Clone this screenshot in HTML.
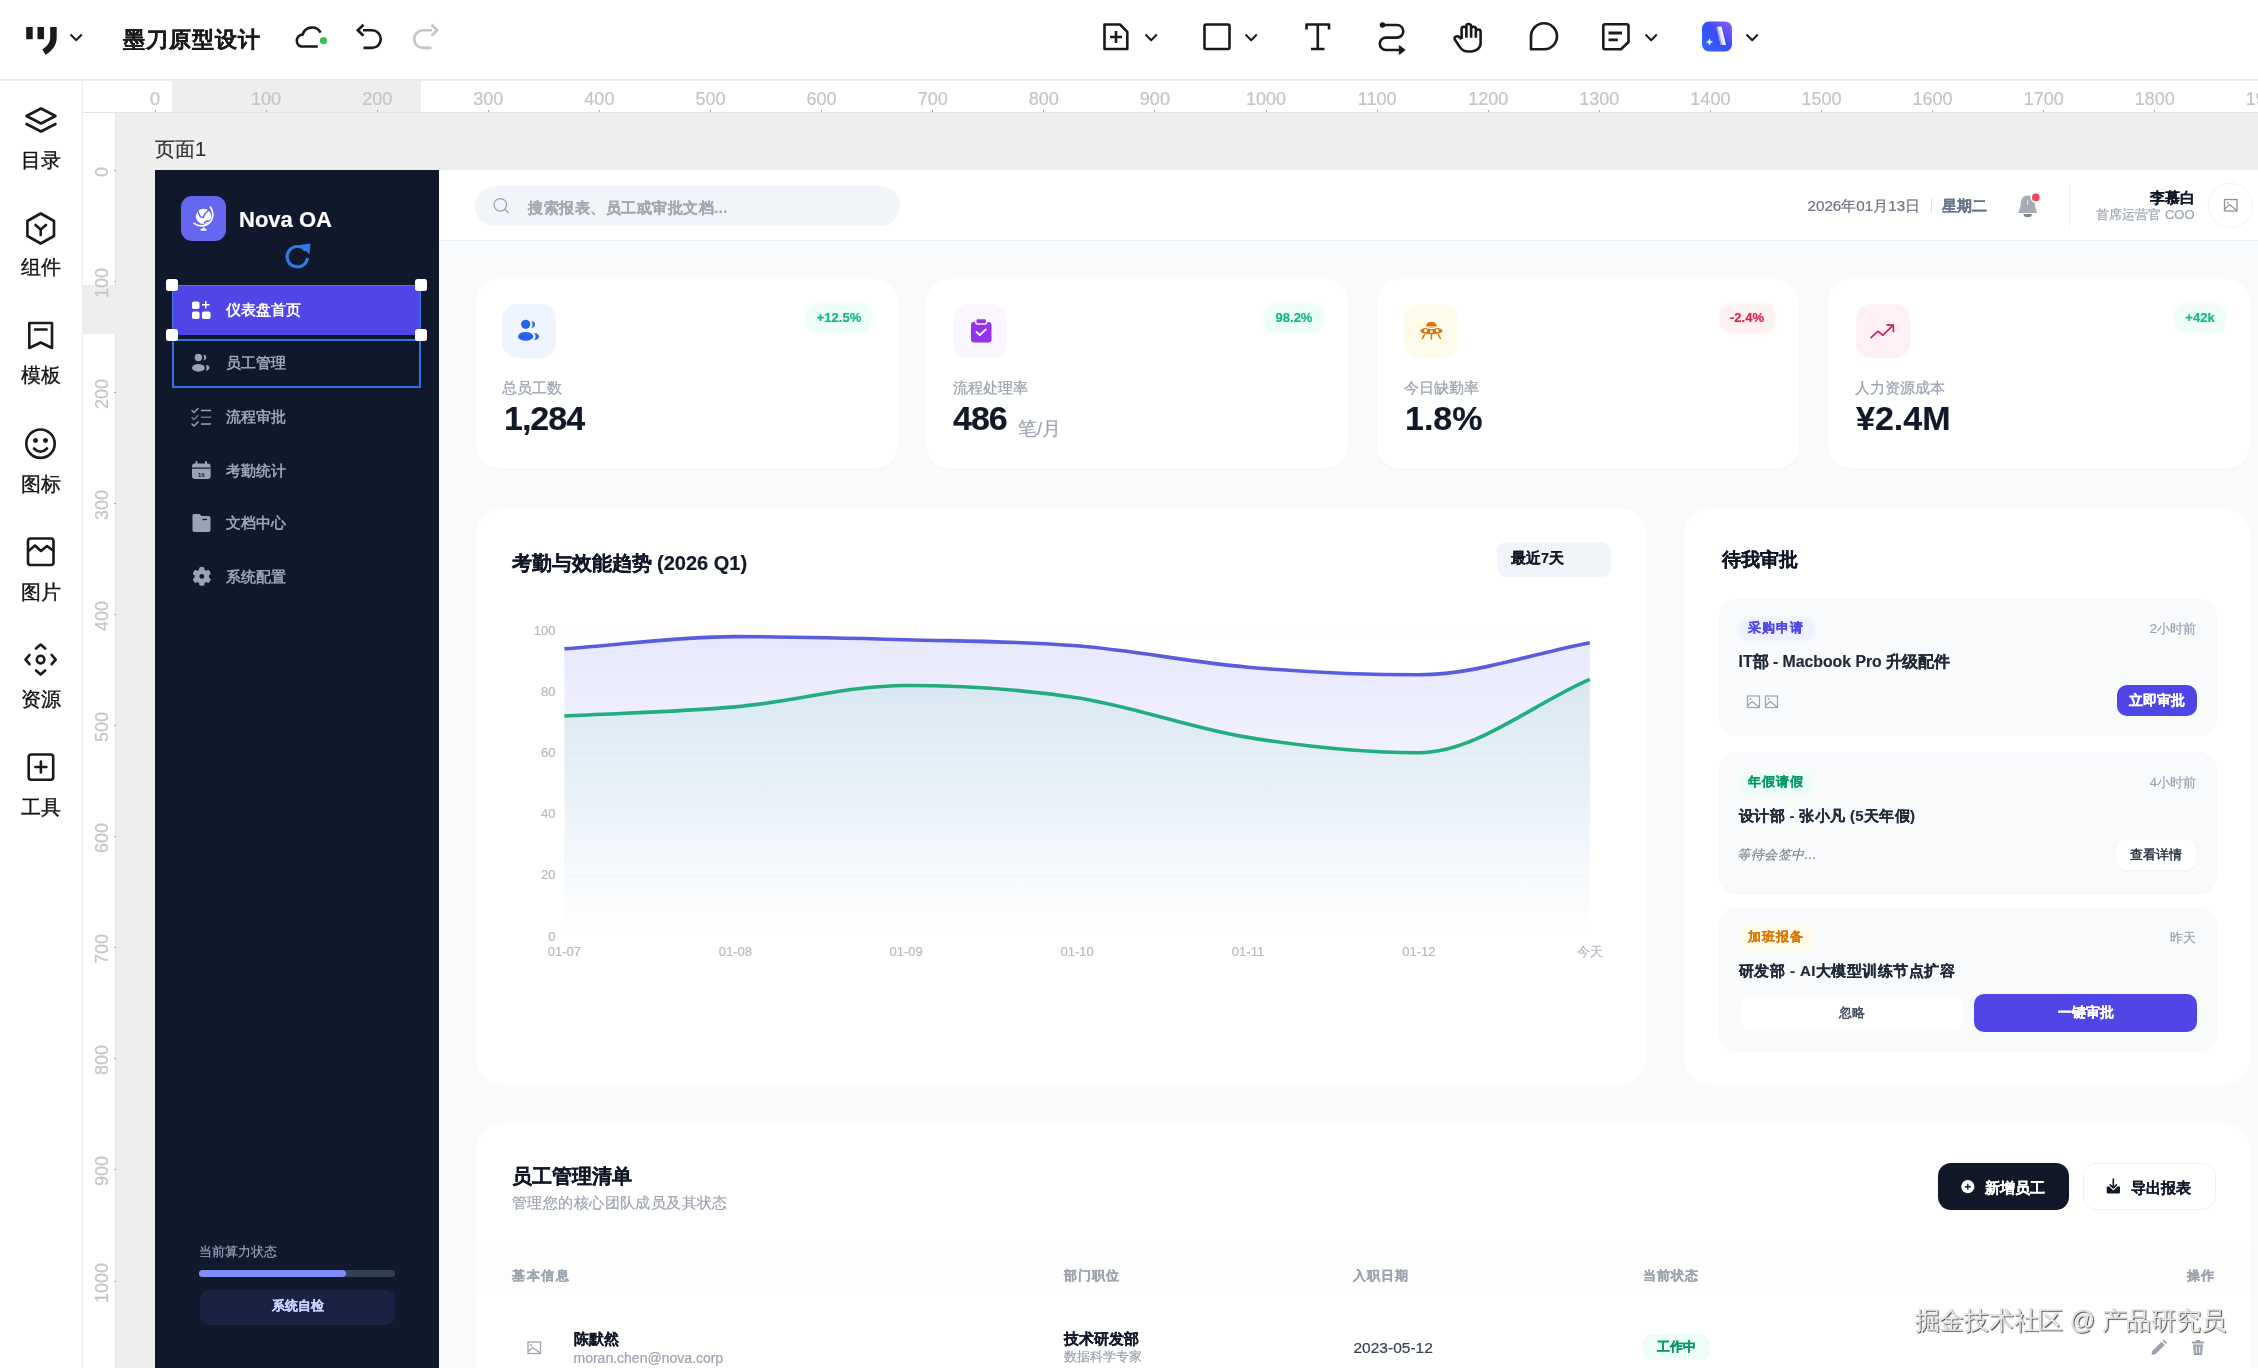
<!DOCTYPE html>
<html><head><meta charset="utf-8">
<style>
*{box-sizing:border-box;margin:0;padding:0}
html,body{width:2258px;height:1368px;overflow:hidden;background:#eeeeee;font-family:"Liberation Sans",sans-serif;}
.a{position:absolute}
.t{position:absolute;white-space:nowrap;line-height:1;-webkit-text-stroke-width:0.2px}
svg{position:absolute;overflow:visible}
</style></head><body>
<div id="root" style="position:absolute;left:0;top:0;width:2258px;height:1368px;overflow:hidden;will-change:transform">

<!-- canvas bg -->
<div class="a" style="left:0;top:0;width:2258px;height:1368px;background:#eeeeee"></div>

<!-- ===== TOP BAR ===== -->
<div class="a" style="left:0;top:0;width:2258px;height:80px;background:#fff;border-bottom:1px solid #e6e6e6"></div>
<svg style="left:0;top:0" width="100" height="80">
  <rect x="26.2" y="27" width="6.5" height="12.2" fill="#1a1a1a"/>
  <rect x="37.5" y="27" width="6.5" height="12.2" fill="#1a1a1a"/>
  <path d="M50.2,27 H56.7 V37.5 C56.7,45 52.5,51 45.4,54.7 L42.3,49.3 C47,46.5 50.2,42.5 50.2,37.5 Z" fill="#1a1a1a"/>
  <path d="M70.5,34.5 L76.2,40.2 L81.8,34.5" fill="none" stroke="#1a1a1a" stroke-width="2"/>
</svg>
<div class="t" style="left:122.5px;top:28.5px;font-size:22px;font-weight:bold;color:#1a1a1a;letter-spacing:1px">墨刀原型设计</div>
<svg style="left:0;top:0" width="460" height="80">
  <path d="M317.8,46.5 H301 A6.1,6.1 0 0 1 302.6,34.6 A9.8,9.8 0 0 1 320.6,32.6" fill="none" stroke="#1a1a1a" stroke-width="2.6" stroke-linecap="butt"/>
  <circle cx="323.5" cy="40.7" r="3.6" fill="#3fbf4f"/>
  <path d="M363,30.3 H372 A8.8,8.8 0 0 1 372,47.9 H363.5" fill="none" stroke="#1a1a1a" stroke-width="2.6"/>
  <path d="M363.5,24.8 L357.8,30.3 L363.5,35.8" fill="none" stroke="#1a1a1a" stroke-width="2.6"/>
  <path d="M432,30.3 H423 A8.8,8.8 0 0 0 423,47.9 H431.5" fill="none" stroke="#c4c4c4" stroke-width="2.6"/>
  <path d="M431.5,24.8 L437.2,30.3 L431.5,35.8" fill="none" stroke="#c4c4c4" stroke-width="2.6"/>
</svg>
<!-- toolbar icons -->
<svg style="left:0;top:0" width="1800" height="80">
  <g fill="none" stroke="#1a1a1a" stroke-width="2.6" stroke-linejoin="round">
    <path d="M1104.5,24.5 H1120 L1127.3,31.8 V49 H1104.5 Z"/>
    <path d="M1116,31 V43 M1110,37 H1122"/>
    <path d="M1145.5,34.5 L1151.2,40.2 L1156.8,34.5" stroke-width="2"/>
    <rect x="1204.5" y="24.5" width="25" height="24.5" rx="1.5"/>
    <path d="M1245.5,34.5 L1251.2,40.2 L1256.8,34.5" stroke-width="2"/>
    <path d="M1306.5,29.5 V24.5 H1329 V29.5 M1317.8,24.5 V49 M1311,49 H1324.5"/>
    <path d="M1382,25 H1397 A6.3,6.3 0 0 1 1397,37.6 H1386 A6.2,6.2 0 0 0 1386,50 H1402"/>
    <path transform="translate(1449,21.3) scale(1.58,1.37)" vector-effect="non-scaling-stroke" d="M8 13v-7.5a1.5 1.5 0 0 1 3 0v6.5 M11 5.5v-2a1.5 1.5 0 1 1 3 0v8.5 M14 5.5a1.5 1.5 0 0 1 3 0v6.5 M17 7.5a1.5 1.5 0 0 1 3 0v8.5a6 6 0 0 1 -6 6h-2h.208a6 6 0 0 1 -5.012 -2.7l-.196 -.3c-.312 -.479 -1.407 -2.388 -3.286 -5.728a1.5 1.5 0 0 1 .536 -2.022a1.867 1.867 0 0 1 2.28 .28l1.47 1.47"/>
    <path d="M1531,49.3 V36.5 A13,13 0 1 1 1544.2,49.3 Z"/>
    <path d="M1605,24.3 H1626.8 Q1628.5,24.3 1628.5,26 V42 L1621,49.3 H1605 Q1603.3,49.3 1603.3,47.6 V26 Q1603.3,24.3 1605,24.3 Z"/><path d="M1608.5,33 H1622 M1608.5,39.8 H1617.8" stroke-width="2.8"/>
    <path d="M1645.5,34.5 L1651.2,40.2 L1656.8,34.5" stroke-width="2"/>
    <path d="M1746.5,34.5 L1752.2,40.2 L1757.8,34.5" stroke-width="2"/>
  </g>
  <path d="M1397,50 L1402.5,50 M1399,46 L1404,50 L1399,54" fill="#1a1a1a" stroke="#1a1a1a" stroke-width="2"/>
  <circle cx="1382.5" cy="25" r="2.8" fill="#1a1a1a"/>
  <defs><linearGradient id="aig" x1="0" y1="1" x2="1" y2="0"><stop offset="0" stop-color="#2f6bff"/><stop offset="0.55" stop-color="#3b4cf5"/><stop offset="1" stop-color="#9b5cf6"/></linearGradient></defs>
  <rect x="1702" y="21.5" width="30" height="30" rx="7" fill="url(#aig)"/>
  <path d="M1717.5,26.5 H1721.5 L1726,45 H1722 Z" fill="#fff" opacity="0.95"/>
  <path d="M1716,27 L1719,27 L1723.5,45 L1720.5,45Z" fill="#c9c5ff" opacity="0.6"/>
  <path d="M1709.5,38.5 L1710.6,41 L1713,42 L1710.6,43 L1709.5,45.5 L1708.4,43 L1706,42 L1708.4,41Z" fill="#fff"/>
</svg>

<!-- ===== LEFT PANEL ===== -->
<div class="a" style="left:0;top:81px;width:83px;height:1287px;background:#fff;border-right:1px solid #ececec"></div>

<div class="t" style="left:20px;top:149.6px;width:42px;text-align:center;font-size:20px;color:#141414;-webkit-text-stroke:0.35px #141414">目录</div>
<div class="t" style="left:20px;top:256.5px;width:42px;text-align:center;font-size:20px;color:#141414;-webkit-text-stroke:0.35px #141414">组件</div>
<div class="t" style="left:20px;top:364.5px;width:42px;text-align:center;font-size:20px;color:#141414;-webkit-text-stroke:0.35px #141414">模板</div>
<div class="t" style="left:20px;top:473.6px;width:42px;text-align:center;font-size:20px;color:#141414;-webkit-text-stroke:0.35px #141414">图标</div>
<div class="t" style="left:20px;top:581.9px;width:42px;text-align:center;font-size:20px;color:#141414;-webkit-text-stroke:0.35px #141414">图片</div>
<div class="t" style="left:20px;top:688.7px;width:42px;text-align:center;font-size:20px;color:#141414;-webkit-text-stroke:0.35px #141414">资源</div>
<div class="t" style="left:20px;top:796.7px;width:42px;text-align:center;font-size:20px;color:#141414;-webkit-text-stroke:0.35px #141414">工具</div>
<svg style="left:0;top:0" width="83" height="900"><g fill="none" stroke="#1a1a1a" stroke-width="2.6" stroke-linejoin="round" stroke-linecap="round">
<path d="M41,108.5 L55.5,116 L41,123.5 L26.5,116 Z"/>
<path d="M26.5,124 L41,131.5 L55.5,124"/>
<path d="M40.7,213.5 L54,221 V236 L40.7,243.5 L27.4,236 V221 Z"/>
<path d="M35.5,225 L40.7,229.5 L46,225 M40.7,229.5 V235"/>
<path d="M29.3,323 H52 V348 L40.7,342.5 L29.3,348 Z"/>
<path d="M35,329.5 H46.5"/>
<circle cx="40.5" cy="443.7" r="14.2"/>
<path d="M34,448.5 Q40.5,455 47,448.5"/>
<circle cx="35.5" cy="440.5" r="1.2" fill="#1a1a1a"/><circle cx="45.5" cy="440.5" r="1.2" fill="#1a1a1a"/>
<rect x="28" y="538.5" width="25.5" height="26.5" rx="2.5"/>
<path d="M28.5,551 L35,545.5 L41,551 L47,546 L53,550.5"/>
<path d="M36,648.5 L40.6,644.5 L45.2,648.5 M36,670.5 L40.6,674.5 L45.2,670.5 M29.5,655 L25.5,659.6 L29.5,664.2 M51.7,655 L55.7,659.6 L51.7,664.2"/>
<circle cx="40.6" cy="659.6" r="3.8"/>
<rect x="28.7" y="754.5" width="24.5" height="25.2" rx="2.5"/>
<path d="M40.9,761.5 V772.5 M35.4,767 H46.4"/>
</g></svg>
<!-- rulers -->
<div class="a" style="left:83px;top:81px;width:2175px;height:32px;background:#fff;border-bottom:1px solid #e4e4e4"></div>
<div class="a" style="left:172px;top:81px;width:249px;height:31px;background:#eeeeee"></div>
<div class="a" style="left:83px;top:113px;width:33px;height:1255px;background:#fff;border-right:1px solid #e4e4e4"></div>
<div class="a" style="left:83px;top:285px;width:33px;height:49px;background:#eeeeee"></div>
<div class="t" style="left:115.0px;top:89.5px;width:80px;text-align:center;font-size:18px;color:#c4c4c4">0</div>
<div class="a" style="left:154.5px;top:109.5px;width:1px;height:2.5px;background:#a8a8a8"></div>
<div class="t" style="left:226.1px;top:89.5px;width:80px;text-align:center;font-size:18px;color:#c4c4c4">100</div>
<div class="a" style="left:265.6px;top:109.5px;width:1px;height:2.5px;background:#a8a8a8"></div>
<div class="t" style="left:337.2px;top:89.5px;width:80px;text-align:center;font-size:18px;color:#c4c4c4">200</div>
<div class="a" style="left:376.7px;top:109.5px;width:1px;height:2.5px;background:#a8a8a8"></div>
<div class="t" style="left:448.3px;top:89.5px;width:80px;text-align:center;font-size:18px;color:#c4c4c4">300</div>
<div class="a" style="left:487.8px;top:109.5px;width:1px;height:2.5px;background:#a8a8a8"></div>
<div class="t" style="left:559.4px;top:89.5px;width:80px;text-align:center;font-size:18px;color:#c4c4c4">400</div>
<div class="a" style="left:598.9px;top:109.5px;width:1px;height:2.5px;background:#a8a8a8"></div>
<div class="t" style="left:670.5px;top:89.5px;width:80px;text-align:center;font-size:18px;color:#c4c4c4">500</div>
<div class="a" style="left:710.0px;top:109.5px;width:1px;height:2.5px;background:#a8a8a8"></div>
<div class="t" style="left:781.6px;top:89.5px;width:80px;text-align:center;font-size:18px;color:#c4c4c4">600</div>
<div class="a" style="left:821.1px;top:109.5px;width:1px;height:2.5px;background:#a8a8a8"></div>
<div class="t" style="left:892.7px;top:89.5px;width:80px;text-align:center;font-size:18px;color:#c4c4c4">700</div>
<div class="a" style="left:932.2px;top:109.5px;width:1px;height:2.5px;background:#a8a8a8"></div>
<div class="t" style="left:1003.8px;top:89.5px;width:80px;text-align:center;font-size:18px;color:#c4c4c4">800</div>
<div class="a" style="left:1043.3px;top:109.5px;width:1px;height:2.5px;background:#a8a8a8"></div>
<div class="t" style="left:1114.9px;top:89.5px;width:80px;text-align:center;font-size:18px;color:#c4c4c4">900</div>
<div class="a" style="left:1154.4px;top:109.5px;width:1px;height:2.5px;background:#a8a8a8"></div>
<div class="t" style="left:1226.0px;top:89.5px;width:80px;text-align:center;font-size:18px;color:#c4c4c4">1000</div>
<div class="a" style="left:1265.5px;top:109.5px;width:1px;height:2.5px;background:#a8a8a8"></div>
<div class="t" style="left:1337.1px;top:89.5px;width:80px;text-align:center;font-size:18px;color:#c4c4c4">1100</div>
<div class="a" style="left:1376.6px;top:109.5px;width:1px;height:2.5px;background:#a8a8a8"></div>
<div class="t" style="left:1448.2px;top:89.5px;width:80px;text-align:center;font-size:18px;color:#c4c4c4">1200</div>
<div class="a" style="left:1487.7px;top:109.5px;width:1px;height:2.5px;background:#a8a8a8"></div>
<div class="t" style="left:1559.3px;top:89.5px;width:80px;text-align:center;font-size:18px;color:#c4c4c4">1300</div>
<div class="a" style="left:1598.8px;top:109.5px;width:1px;height:2.5px;background:#a8a8a8"></div>
<div class="t" style="left:1670.4px;top:89.5px;width:80px;text-align:center;font-size:18px;color:#c4c4c4">1400</div>
<div class="a" style="left:1709.9px;top:109.5px;width:1px;height:2.5px;background:#a8a8a8"></div>
<div class="t" style="left:1781.5px;top:89.5px;width:80px;text-align:center;font-size:18px;color:#c4c4c4">1500</div>
<div class="a" style="left:1821.0px;top:109.5px;width:1px;height:2.5px;background:#a8a8a8"></div>
<div class="t" style="left:1892.6px;top:89.5px;width:80px;text-align:center;font-size:18px;color:#c4c4c4">1600</div>
<div class="a" style="left:1932.1px;top:109.5px;width:1px;height:2.5px;background:#a8a8a8"></div>
<div class="t" style="left:2003.7px;top:89.5px;width:80px;text-align:center;font-size:18px;color:#c4c4c4">1700</div>
<div class="a" style="left:2043.2px;top:109.5px;width:1px;height:2.5px;background:#a8a8a8"></div>
<div class="t" style="left:2114.8px;top:89.5px;width:80px;text-align:center;font-size:18px;color:#c4c4c4">1800</div>
<div class="a" style="left:2154.3px;top:109.5px;width:1px;height:2.5px;background:#a8a8a8"></div>
<div class="t" style="left:2225.9px;top:89.5px;width:80px;text-align:center;font-size:18px;color:#c4c4c4">1900</div>
<div class="a" style="left:2265.4px;top:109.5px;width:1px;height:2.5px;background:#a8a8a8"></div>
<div class="t" style="left:62px;top:162.5px;width:80px;text-align:center;font-size:18px;color:#c4c4c4;transform:rotate(-90deg)">0</div>
<div class="a" style="left:113.5px;top:169.5px;width:2.5px;height:1px;background:#a8a8a8"></div>
<div class="t" style="left:62px;top:273.6px;width:80px;text-align:center;font-size:18px;color:#c4c4c4;transform:rotate(-90deg)">100</div>
<div class="a" style="left:113.5px;top:280.6px;width:2.5px;height:1px;background:#a8a8a8"></div>
<div class="t" style="left:62px;top:384.7px;width:80px;text-align:center;font-size:18px;color:#c4c4c4;transform:rotate(-90deg)">200</div>
<div class="a" style="left:113.5px;top:391.7px;width:2.5px;height:1px;background:#a8a8a8"></div>
<div class="t" style="left:62px;top:495.8px;width:80px;text-align:center;font-size:18px;color:#c4c4c4;transform:rotate(-90deg)">300</div>
<div class="a" style="left:113.5px;top:502.8px;width:2.5px;height:1px;background:#a8a8a8"></div>
<div class="t" style="left:62px;top:606.9px;width:80px;text-align:center;font-size:18px;color:#c4c4c4;transform:rotate(-90deg)">400</div>
<div class="a" style="left:113.5px;top:613.9px;width:2.5px;height:1px;background:#a8a8a8"></div>
<div class="t" style="left:62px;top:718.0px;width:80px;text-align:center;font-size:18px;color:#c4c4c4;transform:rotate(-90deg)">500</div>
<div class="a" style="left:113.5px;top:725.0px;width:2.5px;height:1px;background:#a8a8a8"></div>
<div class="t" style="left:62px;top:829.1px;width:80px;text-align:center;font-size:18px;color:#c4c4c4;transform:rotate(-90deg)">600</div>
<div class="a" style="left:113.5px;top:836.1px;width:2.5px;height:1px;background:#a8a8a8"></div>
<div class="t" style="left:62px;top:940.2px;width:80px;text-align:center;font-size:18px;color:#c4c4c4;transform:rotate(-90deg)">700</div>
<div class="a" style="left:113.5px;top:947.2px;width:2.5px;height:1px;background:#a8a8a8"></div>
<div class="t" style="left:62px;top:1051.3px;width:80px;text-align:center;font-size:18px;color:#c4c4c4;transform:rotate(-90deg)">800</div>
<div class="a" style="left:113.5px;top:1058.3px;width:2.5px;height:1px;background:#a8a8a8"></div>
<div class="t" style="left:62px;top:1162.4px;width:80px;text-align:center;font-size:18px;color:#c4c4c4;transform:rotate(-90deg)">900</div>
<div class="a" style="left:113.5px;top:1169.4px;width:2.5px;height:1px;background:#a8a8a8"></div>
<div class="t" style="left:62px;top:1273.5px;width:80px;text-align:center;font-size:18px;color:#c4c4c4;transform:rotate(-90deg)">1000</div>
<div class="a" style="left:113.5px;top:1280.5px;width:2.5px;height:1px;background:#a8a8a8"></div>
<div class="t" style="left:62px;top:1384.6px;width:80px;text-align:center;font-size:18px;color:#c4c4c4;transform:rotate(-90deg)">1100</div>
<div class="a" style="left:113.5px;top:1391.6px;width:2.5px;height:1px;background:#a8a8a8"></div>
<!-- CANVAS -->
<div class="t" style="left:155px;top:139px;font-size:20px;color:#333">页面1</div>
<!-- ===== ARTBOARD ===== -->
<div class="a" style="left:155px;top:170px;width:2133px;height:1300px;background:#f8fafc"></div>
<!-- sidebar -->
<div class="a" style="left:155px;top:170px;width:284px;height:1300px;background:#10182b"></div>
<div class="a" style="left:181px;top:196px;width:45px;height:45px;border-radius:11px;background:#6567f0"></div>
<svg style="left:0;top:0" width="440" height="600">
  <circle cx="203.6" cy="216.4" r="7.7" fill="#fff"/>
  <path d="M197.9,211.4 L200.2,216.7 L203.1,217.5 L205,213.8 L208.6,210.2 M204.3,222.8 Q205.5,221 209.6,220.8 L211.2,219.2" fill="none" stroke="#6366f1" stroke-width="1.5" stroke-linecap="round"/>
  <path d="M210.4,207.1 A11.6,11.6 0 0 1 194.1,223.4" fill="none" stroke="#fff" stroke-width="1.7" stroke-linecap="round"/>
  <path d="M203.7,227.5 V229" stroke="#fff" stroke-width="1.8"/>
  <rect x="200.5" y="228.7" width="6.1" height="2.1" rx="0.8" fill="#fff"/>
</svg>
<div class="t" style="left:239px;top:208.5px;font-size:22px;font-weight:bold;color:#fff">Nova OA</div>
<svg style="left:0;top:0" width="440" height="600">
  <path d="M305.5,250.5 A10.2,10.2 0 1 0 307.5,258" fill="none" stroke="#2f7ae8" stroke-width="3.2"/>
  <path d="M299.5,245 L310.5,243.5 L309.5,254.5 Z" fill="#2f7ae8"/>
</svg>
<!-- nav -->
<div class="a" style="left:172.3px;top:285px;width:249px;height:49.5px;background:#4f46e5;border:1.5px solid #4a7cf0;border-bottom:none"></div>
<div class="a" style="left:172.3px;top:338.5px;width:249px;height:49px;border:2.4px solid #3272e4"></div>
<div class="a" style="left:165.8px;top:279px;width:12px;height:12px;background:#fff;border-radius:2.5px;box-shadow:0 0 1px rgba(0,0,0,.4)"></div>
<div class="a" style="left:415px;top:279px;width:12px;height:12px;background:#fff;border-radius:2.5px;box-shadow:0 0 1px rgba(0,0,0,.4)"></div>
<div class="a" style="left:165.8px;top:328.5px;width:12px;height:12px;background:#fff;border-radius:2.5px;box-shadow:0 0 1px rgba(0,0,0,.4)"></div>
<div class="a" style="left:415px;top:328.5px;width:12px;height:12px;background:#fff;border-radius:2.5px;box-shadow:0 0 1px rgba(0,0,0,.4)"></div>
<svg style="left:0;top:0" width="440" height="600">
  <g fill="#fff">
    <rect x="192" y="301.5" width="7.5" height="7.5" rx="1.8"/>
    <rect x="192" y="311.5" width="7.5" height="7.5" rx="1.8"/>
    <rect x="202" y="311.5" width="8.5" height="7.5" rx="1.8"/>
    <path d="M205.8,301 V308.5 M202,304.8 H209.6" stroke="#fff" stroke-width="1.5"/>
  </g>
  <g fill="#9aa4b5">
    <circle cx="198.4" cy="357.5" r="3.7"/>
    <ellipse cx="198.4" cy="367.9" rx="6.4" ry="3.8"/>
    <path d="M203.2,354.8 A3.1,2.8 0 0 1 203.2,360.4 A4.6,4.6 0 0 0 203.2,354.8 Z"/>
    <path d="M205.8,365 A3.6,2.8 0 0 1 205.8,370.6 A5.4,5.4 0 0 0 205.8,365 Z"/>
  </g>
  <g fill="none" stroke="#9aa4b5" stroke-width="1.5" stroke-linecap="round">
    <path d="M192,410.5 L194,412.5 L198,408.5 M192,424 L194,426 L198,422"/>
    <path d="M192,417.5 L194,419.5 L198,415.5" stroke="#6b7385"/>
    <path d="M201.5,410.5 H210.5 M201.5,424 H210.5"/>
    <path d="M201.5,417.2 H210.5" stroke="#6b7385"/>
  </g>
  <g fill="#9aa4b5">
    <rect x="192" y="463.5" width="18.7" height="15.5" rx="3"/>
    <rect x="195.5" y="461" width="2" height="4" rx="1"/>
    <rect x="205" y="461" width="2" height="4" rx="1"/>
    <path d="M192.5,515.5 Q192.5,514 194,514 H199.5 L201.5,516 H208.5 Q210.5,516 210.5,518 V530 Q210.5,532 208.5,532 H194.5 Q192.5,532 192.5,530 Z"/>
    <g transform="translate(201.8,576.4)"><rect x="-2.6" y="-9.4" width="5.2" height="6" rx="1.6" transform="rotate(0)"/><rect x="-2.6" y="-9.4" width="5.2" height="6" rx="1.6" transform="rotate(60)"/><rect x="-2.6" y="-9.4" width="5.2" height="6" rx="1.6" transform="rotate(120)"/><rect x="-2.6" y="-9.4" width="5.2" height="6" rx="1.6" transform="rotate(180)"/><rect x="-2.6" y="-9.4" width="5.2" height="6" rx="1.6" transform="rotate(240)"/><rect x="-2.6" y="-9.4" width="5.2" height="6" rx="1.6" transform="rotate(300)"/><circle r="7.2"/></g>
  </g>
  <rect x="192" y="467.5" width="18.7" height="1.2" fill="#0f172a"/>
  <text x="201.3" y="476.5" font-size="6" font-weight="bold" fill="#0f172a" text-anchor="middle" font-family="Liberation Sans">10</text>
  <path d="M202.5,519.5 H207" stroke="#0f172a" stroke-width="1.3"/>
  <circle cx="201.8" cy="576.4" r="2.4" fill="#0f172a"/>
</svg>
<div class="t" style="left:226px;top:303px;font-size:14.8px;font-weight:bold;color:#fff;-webkit-text-stroke-width:0">仪表盘首页</div>
<div class="t" style="left:226px;top:356px;font-size:14.8px;font-weight:bold;color:#9aa4b5;-webkit-text-stroke-width:0">员工管理</div>
<div class="t" style="left:226px;top:410px;font-size:14.8px;font-weight:bold;color:#9aa4b5;-webkit-text-stroke-width:0">流程审批</div>
<div class="t" style="left:226px;top:463.5px;font-size:14.8px;font-weight:bold;color:#9aa4b5;-webkit-text-stroke-width:0">考勤统计</div>
<div class="t" style="left:226px;top:516px;font-size:14.8px;font-weight:bold;color:#9aa4b5;-webkit-text-stroke-width:0">文档中心</div>
<div class="t" style="left:226px;top:569.5px;font-size:14.8px;font-weight:bold;color:#9aa4b5;-webkit-text-stroke-width:0">系统配置</div>
<!-- sidebar bottom -->
<div class="a" style="left:175px;top:1215px;width:243px;height:138px;border-radius:14px;background:rgba(30,41,59,0.13)"></div>
<div class="t" style="left:199px;top:1245px;font-size:13px;color:#94a3b8">当前算力状态</div>
<div class="a" style="left:199px;top:1270px;width:196px;height:7px;border-radius:4px;background:#334155"></div>
<div class="a" style="left:199px;top:1270px;width:147px;height:7px;border-radius:4px;background:#818cf8"></div>
<div class="a" style="left:200px;top:1290px;width:195px;height:35px;border-radius:9px;background:#1a2244"></div>
<div class="t" style="left:200px;top:1299px;width:195px;text-align:center;font-size:13px;font-weight:bold;color:#c7d2fe">系统自检</div>

<!-- header -->
<div class="a" style="left:439px;top:170px;width:1849px;height:71px;background:#fff;border-bottom:1px solid #eef1f5"></div>
<div class="a" style="left:475px;top:186px;width:425px;height:40px;border-radius:20px;background:#f1f5f9"></div>
<svg style="left:0;top:0" width="1000" height="300"><g fill="none" stroke="#9aa1ab" stroke-width="1.25"><circle cx="500.3" cy="204.8" r="6.3"/><path d="M505,209.5 L508.3,212.5" stroke-linecap="round"/></g></svg>
<div class="t" style="left:528px;top:200px;font-size:15px;letter-spacing:0.5px;font-weight:bold;color:#a3a9b3">搜索报表、员工或审批文档...</div>
<div class="t" style="left:1807.5px;top:198px;font-size:15.2px;color:#6b7280">2026年01月13日</div>
<div class="a" style="left:1931px;top:198px;width:1.3px;height:15px;background:#dfe2e6"></div>
<div class="t" style="left:1942px;top:198.5px;font-size:14.5px;font-weight:bold;color:#64748b">星期二</div>
<svg style="left:0;top:0" width="2258" height="300">
  <path d="M2027.7,195.5 C2021.5,195.5 2020.5,201 2020.5,206 L2018.3,213 H2037.1 L2034.9,206 C2034.9,201 2033.9,195.5 2027.7,195.5 Z" fill="#a7abb3"/>
  <path d="M2023.5,214 A4.2,3.3 0 0 0 2031.9,214 Z" fill="#7f848c"/>
  <rect x="2027" y="200" width="1.3" height="5" fill="#fff" opacity="0.6"/>
  <circle cx="2035.8" cy="197.4" r="4.6" fill="#ef4458" stroke="#fff" stroke-width="1.5"/>
</svg>
<div class="a" style="left:2068.5px;top:184px;width:1.3px;height:44px;background:#f1f3f6"></div>
<div class="t" style="left:2093px;top:189.5px;width:102px;text-align:right;font-size:15px;font-weight:bold;color:#111827">李慕白</div>
<div class="t" style="left:2043px;top:208px;width:151.5px;text-align:right;font-size:13px;color:#9ca3af">首席运营官 COO</div>
<div class="a" style="left:2208px;top:183px;width:44.5px;height:44.5px;border-radius:50%;border:1.5px solid #f0f2f5;background:#fff"></div>
<svg style="left:0;top:0" width="2258" height="300"><g fill="none" stroke="#8e939b" stroke-width="1.3"><rect x="2224.5" y="199.5" width="12.5" height="11.5"/><path d="M2224.8,209 L2229.5,204.5 L2236.8,210.5"/></g><circle cx="2227.8" cy="202.8" r="1" fill="#8e939b"/></svg>

<!-- stat cards -->
<div class="a" style="left:476px;top:279px;width:422px;height:190px;border-radius:24px;background:#fff;box-shadow:0 1px 3px rgba(15,23,42,0.025)"></div>
<div class="a" style="left:926px;top:279px;width:422px;height:190px;border-radius:24px;background:#fff;box-shadow:0 1px 3px rgba(15,23,42,0.025)"></div>
<div class="a" style="left:1377px;top:279px;width:422px;height:190px;border-radius:24px;background:#fff;box-shadow:0 1px 3px rgba(15,23,42,0.025)"></div>
<div class="a" style="left:1828px;top:279px;width:422px;height:190px;border-radius:24px;background:#fff;box-shadow:0 1px 3px rgba(15,23,42,0.025)"></div>

<div class="a" style="left:502px;top:304px;width:54px;height:54px;border-radius:15px;background:#eff5ff"></div>
<div class="a" style="left:953px;top:304px;width:54px;height:54px;border-radius:15px;background:#faf5ff"></div>
<div class="a" style="left:1404px;top:304px;width:54px;height:54px;border-radius:15px;background:#fffbeb"></div>
<div class="a" style="left:1856px;top:304px;width:54px;height:54px;border-radius:15px;background:#fff1f3"></div>
<svg style="left:0;top:0" width="2258" height="500">
  <g fill="#2563eb">
    <circle cx="525.7" cy="324.3" r="4.6"/>
    <ellipse cx="525.7" cy="336.4" rx="7.6" ry="4.4"/>
    <path d="M531.4,321 A4.3,3.5 0 0 1 531.4,327.9 A6,6 0 0 0 531.4,321 Z"/>
    <path d="M534.2,333 A4.8,3.5 0 0 1 534.2,340 A7,6 0 0 0 534.2,333 Z"/>
  </g>
  <g fill="#9333ea">
    <rect x="971" y="322" width="20.5" height="20.5" rx="3"/>
  </g>
  <rect x="975.8" y="318.5" width="10.8" height="5.5" rx="1.8" fill="#9333ea" stroke="#faf5ff" stroke-width="1.4"/>
  <path d="M976.5,332 L979.8,335 L985.8,329.5" fill="none" stroke="#fff" stroke-width="1.8" stroke-linecap="round" stroke-linejoin="round"/>
  <g fill="#d97706">
    <path d="M1426,326.5 A5.4,4.8 0 0 1 1436.8,326.5 Z"/>
    <ellipse cx="1431.4" cy="330.8" rx="11.2" ry="3.6"/>
    <path d="M1424.5,334.5 L1422.5,338.5 M1431.4,335 V339 M1438.3,334.5 L1440.3,338.5" stroke="#d97706" stroke-width="1.6" stroke-linecap="round"/>
  </g>
  <g fill="#fff"><rect x="1424.2" y="329.3" width="2.6" height="2.6"/><rect x="1430.1" y="330.3" width="2.6" height="2.6"/><rect x="1436" y="329.3" width="2.6" height="2.6"/></g>
  <path d="M1426.2,327.6 Q1431.4,329 1436.6,327.6" fill="none" stroke="#fffbeb" stroke-width="1.2"/>
  <g fill="none" stroke="#c8235a" stroke-width="1.7" stroke-linecap="round" stroke-linejoin="round">
    <path d="M1871,337.7 L1877.9,331.3 L1883,335.2 L1893.2,325.2"/>
    <path d="M1887.1,324.9 L1893.2,325.2 L1893.5,331.6"/>
  </g>
</svg>
<!-- badges -->
<div class="a" style="left:807px;top:305px;width:64px;height:27px;border-radius:10px;background:#ecfdf5;box-shadow:0 0 5px 1px #ecfdf5"></div>
<div class="t" style="left:807px;top:311px;width:64px;text-align:center;font-size:13px;font-weight:bold;color:#10b981">+12.5%</div>
<div class="a" style="left:1265px;top:305px;width:58px;height:27px;border-radius:10px;background:#ecfdf5;box-shadow:0 0 5px 1px #ecfdf5"></div>
<div class="t" style="left:1265px;top:311px;width:58px;text-align:center;font-size:13px;font-weight:bold;color:#10b981">98.2%</div>
<div class="a" style="left:1720px;top:305px;width:54px;height:27px;border-radius:10px;background:#fff1f2;box-shadow:0 0 5px 1px #fff1f2"></div>
<div class="t" style="left:1720px;top:311px;width:54px;text-align:center;font-size:13px;font-weight:bold;color:#e11d48">-2.4%</div>
<div class="a" style="left:2175px;top:305px;width:50px;height:27px;border-radius:10px;background:#ecfdf5;box-shadow:0 0 5px 1px #ecfdf5"></div>
<div class="t" style="left:2175px;top:311px;width:50px;text-align:center;font-size:13px;font-weight:bold;color:#10b981">+42k</div>
<!-- labels -->
<div class="t" style="left:502px;top:380px;font-size:15px;color:#9ca3af;-webkit-text-stroke:0.25px #9ca3af">总员工数</div>
<div class="t" style="left:953px;top:380px;font-size:15px;color:#9ca3af;-webkit-text-stroke:0.25px #9ca3af">流程处理率</div>
<div class="t" style="left:1404px;top:380px;font-size:15px;color:#9ca3af;-webkit-text-stroke:0.25px #9ca3af">今日缺勤率</div>
<div class="t" style="left:1855px;top:380px;font-size:15px;color:#9ca3af;-webkit-text-stroke:0.25px #9ca3af">人力资源成本</div>
<div class="t" style="left:504px;top:400.5px;font-size:34px;font-weight:bold;color:#111827;letter-spacing:-1px">1,284</div>
<div class="t" style="left:953px;top:400.5px;font-size:34px;font-weight:bold;color:#111827;letter-spacing:-1px">486</div><div class="t" style="left:1018px;top:420px;font-size:18.5px;color:#9ca3af">笔/月</div>
<div class="t" style="left:1405px;top:400.5px;font-size:34px;font-weight:bold;color:#111827">1.8%</div>
<div class="t" style="left:1856px;top:400.5px;font-size:34px;font-weight:bold;color:#111827">¥2.4M</div>

<!-- chart card -->
<div class="a" style="left:476px;top:508px;width:1171px;height:577px;border-radius:28px;background:#fff"></div>
<div class="t" style="left:511.5px;top:553px;font-size:20px;font-weight:bold;color:#111827">考勤与效能趋势 (2026 Q1)</div>
<div class="a" style="left:1497px;top:542px;width:114px;height:35px;border-radius:9px;background:#f1f5f9"></div>
<div class="t" style="left:1511px;top:550.5px;font-size:14.5px;font-weight:bold;color:#111827">最近7天</div>
<svg style="left:0;top:0" width="2258" height="1368">
<defs>
<linearGradient id="gp" gradientUnits="userSpaceOnUse" x1="0" y1="632" x2="0" y2="936"><stop offset="0" stop-color="#6366f1" stop-opacity="0.15"/><stop offset="1" stop-color="#6366f1" stop-opacity="0"/></linearGradient>
<linearGradient id="gg" gradientUnits="userSpaceOnUse" x1="0" y1="632" x2="0" y2="936"><stop offset="0" stop-color="#10b981" stop-opacity="0.10"/><stop offset="1" stop-color="#10b981" stop-opacity="0"/></linearGradient>
</defs>
<g stroke="#000" stroke-opacity="0.022" stroke-width="1">
<path d="M564.4,632.0 H1589.8"/><path d="M564.4,693.1 H1589.8"/><path d="M564.4,754.2 H1589.8"/><path d="M564.4,815.3 H1589.8"/><path d="M564.4,876.4 H1589.8"/></g>
<path d="M564.4,648.8 C621.4,644.8 678.3,636.6 735.3,636.6 C792.3,636.6 849.2,638.1 906.2,639.7 C963.2,641.2 1020.1,641.2 1077.1,645.8 C1134.1,650.4 1191.0,662.3 1248.0,667.2 C1305.0,672.0 1361.9,674.8 1418.9,674.8 C1475.9,674.8 1532.8,653.4 1589.8,642.7 L1589.8,936 L564.4,936 Z" fill="url(#gp)"/>
<path d="M564.4,716.0 C621.4,713.0 678.3,712.0 735.3,706.9 C792.3,701.8 849.2,685.5 906.2,685.5 C963.2,685.5 1020.1,689.1 1077.1,697.7 C1134.1,706.4 1191.0,728.3 1248.0,737.4 C1305.0,746.6 1361.9,752.7 1418.9,752.7 C1475.9,752.7 1532.8,703.8 1589.8,679.4 L1589.8,936 L564.4,936 Z" fill="url(#gg)"/>
<path d="M564.4,648.8 C621.4,644.8 678.3,636.6 735.3,636.6 C792.3,636.6 849.2,638.1 906.2,639.7 C963.2,641.2 1020.1,641.2 1077.1,645.8 C1134.1,650.4 1191.0,662.3 1248.0,667.2 C1305.0,672.0 1361.9,674.8 1418.9,674.8 C1475.9,674.8 1532.8,653.4 1589.8,642.7" fill="none" stroke="#5b5bde" stroke-width="3.6"/>
<path d="M564.4,716.0 C621.4,713.0 678.3,712.0 735.3,706.9 C792.3,701.8 849.2,685.5 906.2,685.5 C963.2,685.5 1020.1,689.1 1077.1,697.7 C1134.1,706.4 1191.0,728.3 1248.0,737.4 C1305.0,746.6 1361.9,752.7 1418.9,752.7 C1475.9,752.7 1532.8,703.8 1589.8,679.4" fill="none" stroke="#22ad7f" stroke-width="3.6"/>
</svg>
<div class="t" style="left:505px;top:624.0px;width:50.5px;text-align:right;font-size:13px;color:#b5b9c0">100</div>
<div class="t" style="left:505px;top:685.1px;width:50.5px;text-align:right;font-size:13px;color:#b5b9c0">80</div>
<div class="t" style="left:505px;top:746.2px;width:50.5px;text-align:right;font-size:13px;color:#b5b9c0">60</div>
<div class="t" style="left:505px;top:807.3px;width:50.5px;text-align:right;font-size:13px;color:#b5b9c0">40</div>
<div class="t" style="left:505px;top:868.4px;width:50.5px;text-align:right;font-size:13px;color:#b5b9c0">20</div>
<div class="t" style="left:505px;top:929.5px;width:50.5px;text-align:right;font-size:13px;color:#b5b9c0">0</div>
<div class="t" style="left:524.4px;top:944.9px;width:80px;text-align:center;font-size:13px;color:#b5b9c0">01-07</div>
<div class="t" style="left:695.3px;top:944.9px;width:80px;text-align:center;font-size:13px;color:#b5b9c0">01-08</div>
<div class="t" style="left:866.2px;top:944.9px;width:80px;text-align:center;font-size:13px;color:#b5b9c0">01-09</div>
<div class="t" style="left:1037.1px;top:944.9px;width:80px;text-align:center;font-size:13px;color:#b5b9c0">01-10</div>
<div class="t" style="left:1208.0px;top:944.9px;width:80px;text-align:center;font-size:13px;color:#b5b9c0">01-11</div>
<div class="t" style="left:1378.9px;top:944.9px;width:80px;text-align:center;font-size:13px;color:#b5b9c0">01-12</div>
<div class="t" style="left:1549.8px;top:944.9px;width:80px;text-align:center;font-size:13px;color:#b5b9c0">今天</div>

<!-- approvals card -->
<div class="a" style="left:1684px;top:508px;width:566px;height:577px;border-radius:28px;background:#fff"></div>
<div class="t" style="left:1721.5px;top:550px;font-size:19.2px;font-weight:bold;color:#111827">待我审批</div>

<div class="a" style="left:1720px;top:600px;width:496px;height:135px;border-radius:18px;background:#f8fafc;box-shadow:0 0 0 1px #f5f7fa"></div>
<div class="a" style="left:1740.5px;top:618.5px;width:72px;height:21.5px;border-radius:7px;background:#eef0fe;box-shadow:0 0 4px 1px #eef0fe"></div>
<div class="t" style="left:1747.5px;top:622px;font-size:12.5px;font-weight:bold;color:#4f46e5;letter-spacing:1px">采购申请</div>
<div class="t" style="left:2100px;top:622px;width:96px;text-align:right;font-size:13px;color:#9ca3af">2小时前</div>
<div class="t" style="left:1738.5px;top:654px;font-size:15.8px;font-weight:bold;color:#1f2937">IT部 - Macbook Pro 升级配件</div>
<svg style="left:0;top:0" width="2258" height="1368"><g fill="none" stroke="#9ca3af" stroke-width="1.2"><rect x="1747.5" y="696" width="12" height="11.5"/><path d="M1747.8,705.5 L1752,701.5 L1759.2,707"/><rect x="1765.5" y="696" width="12" height="11.5"/><path d="M1765.8,705.5 L1770,701.5 L1777.2,707"/></g><circle cx="1750.5" cy="699" r="1" fill="#9ca3af"/><circle cx="1768.5" cy="699" r="1" fill="#9ca3af"/></svg>
<div class="a" style="left:2117px;top:685px;width:80px;height:31px;border-radius:10px;background:#4f46e5"></div>
<div class="t" style="left:2117px;top:693.5px;width:80px;text-align:center;font-size:13.5px;font-weight:bold;color:#fff">立即审批</div>

<div class="a" style="left:1720px;top:753px;width:496px;height:140px;border-radius:18px;background:#f8fafc;box-shadow:0 0 0 1px #f5f7fa"></div>
<div class="a" style="left:1740.5px;top:771.5px;width:72px;height:21.5px;border-radius:7px;background:#ecfdf5;box-shadow:0 0 4px 1px #ecfdf5"></div>
<div class="t" style="left:1747.5px;top:775.5px;font-size:12.5px;font-weight:bold;color:#059669;letter-spacing:1px">年假请假</div>
<div class="t" style="left:2100px;top:775.5px;width:96px;text-align:right;font-size:13px;color:#9ca3af">4小时前</div>
<div class="t" style="left:1739px;top:807.5px;font-size:15px;letter-spacing:0.35px;font-weight:bold;color:#1f2937">设计部 - 张小凡 (5天年假)</div>
<div class="t" style="left:1737px;top:848px;font-size:13px;letter-spacing:0.5px;font-style:italic;color:#80868f">等待会签中...</div>
<div class="a" style="left:2116px;top:840px;width:80px;height:30px;border-radius:10px;background:#fff;box-shadow:0 1px 2px rgba(15,23,42,0.05)"></div>
<div class="t" style="left:2116px;top:848px;width:80px;text-align:center;font-size:13px;color:#1f2937;-webkit-text-stroke:0.4px #1f2937">查看详情</div>

<div class="a" style="left:1720px;top:908.5px;width:496px;height:142.5px;border-radius:18px;background:#f8fafc;box-shadow:0 0 0 1px #f5f7fa"></div>
<div class="a" style="left:1740.5px;top:927px;width:72px;height:21.5px;border-radius:7px;background:#fffbeb;box-shadow:0 0 4px 1px #fffbeb"></div>
<div class="t" style="left:1747.5px;top:931px;font-size:12.5px;font-weight:bold;color:#d97706;letter-spacing:1px">加班报备</div>
<div class="t" style="left:2100px;top:931px;width:96px;text-align:right;font-size:13px;color:#9ca3af">昨天</div>
<div class="t" style="left:1739px;top:962.5px;font-size:15px;letter-spacing:0.45px;font-weight:bold;color:#1f2937">研发部 - AI大模型训练节点扩容</div>
<div class="a" style="left:1741px;top:996.5px;width:222px;height:34.5px;border-radius:10px;background:#fff"></div>
<div class="t" style="left:1741px;top:1006px;width:222px;text-align:center;font-size:13px;color:#374151;-webkit-text-stroke:0.4px #374151">忽略</div>
<div class="a" style="left:1974px;top:994px;width:223px;height:37.5px;border-radius:10px;background:#4f46e5"></div>
<div class="t" style="left:1974px;top:1005.5px;width:223px;text-align:center;font-size:13.5px;font-weight:bold;color:#fff">一键审批</div>

<!-- table card -->
<div class="a" style="left:476px;top:1123px;width:1774px;height:300px;border-radius:28px;background:#fff"></div>
<div class="t" style="left:512px;top:1166px;font-size:20px;font-weight:bold;color:#111827">员工管理清单</div>
<div class="t" style="left:512px;top:1195px;font-size:15px;letter-spacing:0.42px;color:#9ca3af">管理您的核心团队成员及其状态</div>
<div class="a" style="left:1938px;top:1163px;width:131px;height:47px;border-radius:13px;background:#111827"></div>
<svg style="left:0;top:0" width="2258" height="1368"><circle cx="1967.8" cy="1186.7" r="6.6" fill="#fff"/><path d="M1967.8,1183.7 V1189.7 M1964.8,1186.7 H1970.8" stroke="#111827" stroke-width="1.4"/></svg>
<div class="t" style="left:1985px;top:1179.5px;font-size:15px;font-weight:bold;color:#fff">新增员工</div>
<div class="a" style="left:2082.5px;top:1163px;width:133.5px;height:47px;border-radius:13px;background:#fff;border:1px solid #eef1f5"></div>
<svg style="left:0;top:0" width="2258" height="1368"><path d="M2106.7,1186.5 H2109.2 L2113.3,1190.6 L2117.4,1186.5 H2120 V1192.3 Q2120,1193.5 2118.8,1193.5 H2107.9 Q2106.7,1193.5 2106.7,1192.3 Z" fill="#111827"/><path d="M2113.3,1179 V1188 M2110.2,1184.9 L2113.3,1188 L2116.4,1184.9" fill="none" stroke="#111827" stroke-width="1.6" stroke-linecap="round" stroke-linejoin="round"/></svg>
<div class="t" style="left:2131px;top:1179.5px;font-size:15px;font-weight:bold;color:#111827">导出报表</div>
<div class="a" style="left:476px;top:1246px;width:1774px;height:50px;background:#fdfdfe"></div>
<div class="t" style="left:512px;top:1269px;font-size:13px;font-weight:bold;color:#9ca3af;letter-spacing:1.5px">基本信息</div>
<div class="t" style="left:1064px;top:1269px;font-size:13px;font-weight:bold;color:#9ca3af;letter-spacing:1px">部门职位</div>
<div class="t" style="left:1353px;top:1269px;font-size:13px;font-weight:bold;color:#9ca3af;letter-spacing:1px">入职日期</div>
<div class="t" style="left:1643px;top:1269px;font-size:13px;font-weight:bold;color:#9ca3af;letter-spacing:1px">当前状态</div>
<div class="t" style="left:2114px;top:1269px;width:101px;text-align:right;font-size:13px;font-weight:bold;color:#9ca3af;letter-spacing:1px">操作</div>
<svg style="left:0;top:0" width="2258" height="1368"><g fill="none" stroke="#9ca3af" stroke-width="1.3"><rect x="528" y="1342" width="12.5" height="11.5"/><path d="M528.3,1351.5 L532.5,1347.5 L540.2,1353"/></g><circle cx="531" cy="1345" r="1" fill="#9ca3af"/></svg>
<div class="t" style="left:573.5px;top:1331px;font-size:15px;font-weight:bold;color:#111827">陈默然</div>
<div class="t" style="left:573.5px;top:1350.5px;font-size:14px;color:#9ca3af">moran.chen@nova.corp</div>
<div class="t" style="left:1064px;top:1331px;font-size:15px;font-weight:bold;color:#111827">技术研发部</div>
<div class="t" style="left:1064px;top:1350px;font-size:13px;color:#9ca3af">数据科学专家</div>
<div class="t" style="left:1353.5px;top:1340px;font-size:15.5px;color:#374151">2023-05-12</div>
<div class="a" style="left:1643px;top:1333.5px;width:66.5px;height:26.5px;border-radius:9px;background:#ecfdf5"></div>
<div class="t" style="left:1643px;top:1340px;width:66.5px;text-align:center;font-size:13px;font-weight:bold;color:#059669">工作中</div>
<svg style="left:0;top:0" width="2258" height="1368">
  <path d="M2151.5,1355 L2152.3,1351 L2161.5,1341.8 L2164.7,1345 L2155.5,1354.2 Z" fill="#9ca3af"/>
  <path d="M2162.5,1340.8 L2163.8,1339.5 L2167,1342.7 L2165.7,1344 Z" fill="#9ca3af"/>
  <rect x="2191.7" y="1341.5" width="12.5" height="2" rx="1" fill="#9ca3af"/>
  <rect x="2195.5" y="1340" width="5" height="2" rx="1" fill="#9ca3af"/>
  <path d="M2193,1344.5 H2203 L2202,1355 H2194 Z" fill="#9ca3af"/>
  <path d="M2196.3,1346.5 V1353 M2199.7,1346.5 V1353" stroke="#fff" stroke-width="0.9"/>
</svg>
<!-- watermark -->
<div class="t" style="left:1914.5px;top:1308px;font-size:25px;color:#e9e9e9;letter-spacing:-0.25px;-webkit-text-stroke:0.3px #d0d0d0;text-shadow:1px 1.2px 1px #3a3a3a">掘金技术社区 @ 产品研究员</div>

<!--END-->
</div>
</body></html>
